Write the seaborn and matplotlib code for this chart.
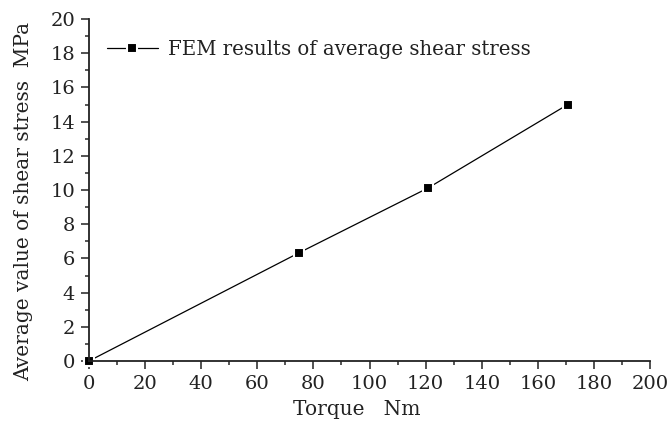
import matplotlib
matplotlib.use("Agg")
import matplotlib.pyplot as plt
from matplotlib.ticker import MultipleLocator
import seaborn as sns
import pandas as pd

torque = [0, 74.9, 120.9, 170.7]
shear_stress = [0, 6.33, 10.12, 15.0]
series_label = "FEM results of average shear stress"
x_label = "Torque   Nm"
y_label = "Average value of shear stress  MPa"

sns.set_theme(style="ticks")
plt.rcParams['font.family'] = ['DejaVu Serif']

df = pd.DataFrame({"torque": torque, "stress": shear_stress})

fig = plt.figure(figsize=(6.71, 4.29), dpi=100)
ax = fig.add_axes([89/671, 1-361/429, (650-89)/671, (361-19)/429])

sns.lineplot(data=df, x="torque", y="stress", ax=ax, color="black",
             linewidth=0.9, marker="s", markersize=6.5, markeredgecolor="white",
             markeredgewidth=1.5, label=series_label)

FS = 14
ax.set_xlim(0, 200)
ax.set_ylim(0, 20)
ax.xaxis.set_major_locator(MultipleLocator(20))
ax.xaxis.set_minor_locator(MultipleLocator(10))
ax.yaxis.set_major_locator(MultipleLocator(2))
ax.yaxis.set_minor_locator(MultipleLocator(1))
ax.tick_params(which="major", direction="out", length=6, width=1.1, labelsize=FS, colors="#222222", pad=4)
ax.tick_params(which="minor", direction="out", length=3, width=1.1)
for side in ["top", "right"]:
    ax.spines[side].set_visible(False)
for side in ["left", "bottom"]:
    ax.spines[side].set_linewidth(1.3)
    ax.spines[side].set_color("#222222")
for lab in ax.get_xticklabels() + ax.get_yticklabels():
    lab.set_color("#222222")
ax.set_xlabel(x_label, fontsize=14.5, color="#222222")
ax.set_ylabel(y_label, fontsize=14.5, color="#222222")
ax.xaxis.set_label_coords(0.477, -0.115)
ax.yaxis.set_label_coords(-0.1, 0.468)
for l in ax.lines:
    l.set_clip_on(False)

leg = ax.legend(loc="upper left", frameon=False, fontsize=14.2, handlelength=2.6,
                handletextpad=0.5, bbox_to_anchor=(0.0, 0.99), borderaxespad=0.5)
for t in leg.get_texts():
    t.set_color("#222222")

fig.savefig("out.png", dpi=100)
